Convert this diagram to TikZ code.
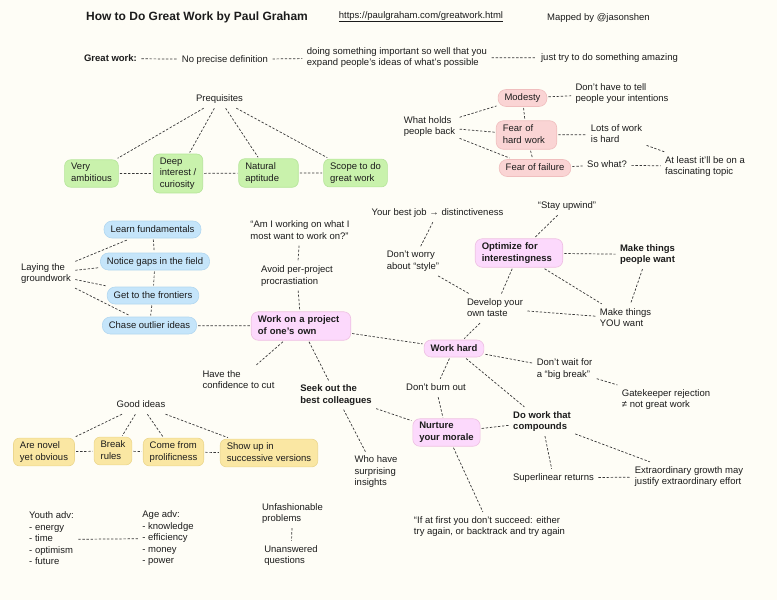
\documentclass[tikz,border=0pt]{standalone}
\usepackage{fontspec}
\setmainfont{Liberation Sans}
\definecolor{paper}{RGB}{254,253,246}
\definecolor{ink}{RGB}{28,28,28}
\definecolor{greenfill}{RGB}{201,242,172}
\definecolor{greenline}{RGB}{180,228,152}
\definecolor{rosefill}{RGB}{250,212,212}
\definecolor{roseline}{RGB}{240,190,190}
\definecolor{pinkfill}{RGB}{252,217,252}
\definecolor{pinkline}{RGB}{238,192,226}
\definecolor{bluefill}{RGB}{197,229,250}
\definecolor{blueline}{RGB}{178,215,240}
\definecolor{sandfill}{RGB}{250,231,163}
\definecolor{sandline}{RGB}{236,215,142}
\newcommand{\topstrut}{\rule{0pt}{7.6pt}}
\newcommand{\botstrut}{\rule[-2.2pt]{0pt}{2.2pt}}

\begin{document}
\begin{tikzpicture}
  [x=1pt,y=-1pt,
   every node/.style={font=\fontsize{9.5}{11.5}\selectfont,text=ink,align=left,
     inner xsep=3pt,inner ysep=2.8pt,outer sep=1.5pt,
     execute at begin node=\topstrut,execute at end node=\botstrut},
   box/.style={draw=#1line,fill=#1fill,line width=0.6pt,rounded corners=6pt,
     inner xsep=6.5pt,inner ysep=3.6pt},
   pill/.style={box=#1,rounded corners=8pt},
   heavy/.style={font=\fontsize{9.5}{11.5}\selectfont\bfseries},
   link/.style={draw=black!78,line width=0.7pt,dash pattern=on 2.4pt off 1.7pt}]
\fill[paper] (0,0) rectangle (777,600);

\node[font=\fontsize{12}{14}\selectfont\bfseries] (title) at (197,17) {How to Do Great Work by Paul Graham};
\node (url) at (421,16.5) {\underline{https://paulgraham.com/greatwork.html}};
\node (mapped) at (598.5,18) {Mapped by @jasonshen};

\node[heavy] (gw) at (110.5,58.5) {Great work:};
\node (npd) at (225,59.5) {No precise definition};
\node (doing) at (397,57.5) {doing something important so well that you\\expand people's ideas of what's possible};
\node (amazing) at (609.5,58) {just try to do something amazing};

\node (pre) at (219.5,99) {Prequisites};
\node[box=green] (amb) at (91.5,173.5) {Very\\ambitious};
\node[box=green] (deep) at (178,173.5) {Deep\\interest /\\curiosity};
\node[box=green,text width=46.5pt] (nat) at (268.5,173) {Natural\\aptitude};
\node[box=green] (scope) at (355.5,173) {Scope to do\\great work};

\node (hold) at (429.5,126.5) {What holds\\people back};
\node[pill=rose] (mod) at (522.5,98) {Modesty};
\node[box=rose,rounded corners=7pt,text width=47.5pt] (fhw) at (526.5,135) {Fear of\\hard work};
\node[pill=rose] (ff) at (535,168) {Fear of failure};
\node (tell) at (622,93.5) {Don't have to tell\\people your intentions};
\node (lots) at (616.5,134.5) {Lots of work\\is hard};
\node (sowhat) at (607,165) {So what?};
\node (atleast) at (705,166.5) {At least it'll be on a\\fascinating topic};

\node (lay) at (46,273.5) {Laying the\\groundwork};
\node[pill=blue] (learn) at (152.5,229.5) {Learn fundamentals};
\node[pill=blue] (gaps) at (155,261.5) {Notice gaps in the field};
\node[pill=blue] (front) at (153,295.5) {Get to the frontiers};
\node[pill=blue] (chase) at (149.5,325.5) {Chase outlier ideas};

\node (amiw) at (300,231) {“Am I working on what I\\most want to work on?”};
\node (avoid) at (297,276) {Avoid per-project\\procrastiation};
\node[box=pink,heavy,rounded corners=7pt,text width=86.5pt] (proj) at (301,326) {Work on a project\\of one's own};
\node (conf) at (238.5,380.5) {Have the\\confidence to cut};
\node[heavy] (seek) at (336,395) {Seek out the\\best colleagues};
\node (who) at (376,472) {Who have\\surprising\\insights};

\node (best) at (437.5,213) {Your best job → distinctiveness};
\node (upwind) at (567,206) {“Stay upwind”};
\node (style) at (413,261.5) {Don't worry\\about “style”};
\node[box=pink,heavy,rounded corners=7pt,text width=74.5pt] (opt) at (519,253) {Optimize for\\interestingness};
\node[heavy] (want) at (647.5,254.5) {Make things\\people want};
\node (taste) at (495,308.5) {Develop your\\own taste};
\node (you) at (625.5,318.5) {Make things\\YOU want};

\node[box=pink,heavy,rounded corners=7pt] (hard) at (454,348.5) {Work hard};
\node (wait) at (564.5,369) {Don't wait for\\a “big break”};
\node (gate) at (666,399.5) {Gatekeeper rejection\\≠ not great work};
\node (burn) at (436,388) {Don't burn out};
\node[heavy] (comp) at (542,421.5) {Do work that\\compounds};
\node[box=pink,heavy,rounded corners=7pt] (nurt) at (446.5,432.5) {Nurture\\your morale};
\node (iffirst) at (489.5,526.5) {“If at first you don't succeed: either\\try again, or backtrack and try again};
\node (super) at (553.5,478) {Superlinear returns};
\node (extra) at (689,476.5) {Extraordinary growth may\\justify extraordinary effort};

\node (good) at (141,405) {Good ideas};
\node[box=sand] (novel) at (44,452) {Are novel\\yet obvious};
\node[box=sand] (brk) at (113,451) {Break\\rules};
\node[box=sand] (prolif) at (173.5,452) {Come from\\prolificness};
\node[box=sand] (show) at (269,453) {Show up in\\successive versions};

\node (youth) at (51.5,539.5) {Youth adv:\\- energy\\- time\\- optimism\\- future};
\node (age) at (168,538.5) {Age adv:\\- knowledge\\- efficiency\\- money\\- power};
\node (unfash) at (292.5,513.5) {Unfashionable\\problems};
\node (unans) at (291,555.5) {Unanswered\\questions};

\draw[link]
  \foreach \a/\b in {gw/npd,npd/doing,doing/amazing,
      pre/amb,pre/deep,pre/nat,pre/scope,amb/deep,deep/nat,nat/scope,
      hold/mod,hold/fhw,hold/ff,mod/fhw,fhw/ff,mod/tell,fhw/lots,ff/sowhat,
      sowhat/atleast,lots/atleast}
    { (\a) -- (\b) }
  \foreach \a/\b in {lay/learn,lay/gaps,lay/front,lay/chase,
      learn/gaps,gaps/front,front/chase,chase/proj,
      amiw/avoid,avoid/proj,proj/conf,proj/seek,seek/who,proj/hard}
    { (\a) -- (\b) }
  \foreach \a/\b in {best/style,upwind/opt,opt/want,opt/taste,opt/you,
      want/you,style/taste,taste/you,taste/hard,
      hard/wait,wait/gate,hard/burn,hard/comp,burn/nurt,seek/nurt,
      nurt/comp,nurt/iffirst,comp/super,comp/extra,super/extra}
    { (\a) -- (\b) }
  \foreach \a/\b in {good/novel,good/brk,good/prolif,good/show,
      novel/brk,brk/prolif,prolif/show,youth/age,unfash/unans}
    { (\a) -- (\b) }
;
\end{tikzpicture}
\end{document}
